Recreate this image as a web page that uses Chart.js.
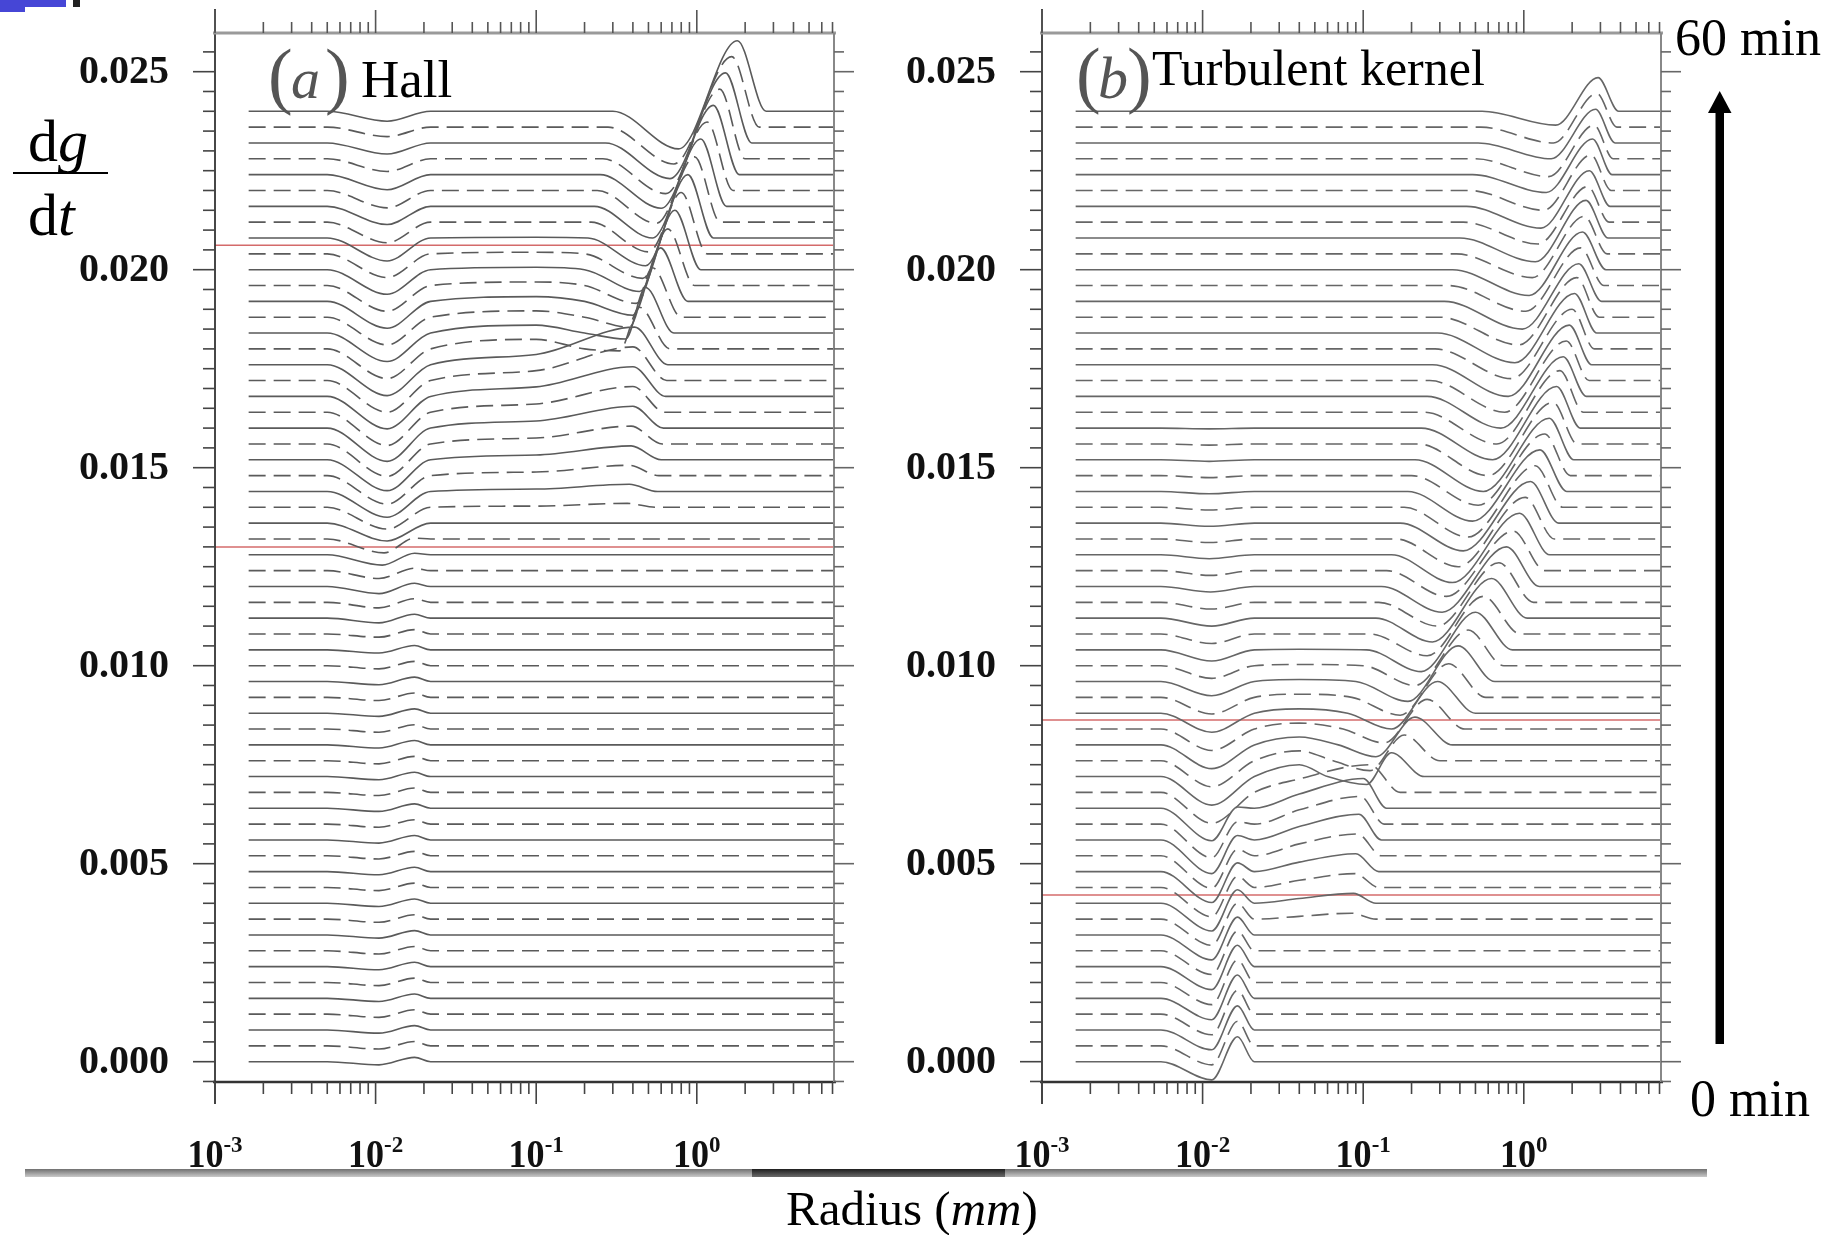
<!DOCTYPE html>
<html>
<head>
<meta charset="utf-8">
<title>dg/dt waterfall – Hall and turbulent kernels</title>
<script src="https://cdn.jsdelivr.net/npm/chart.js@4.4.1/dist/chart.umd.min.js"></script>
<style>
  html, body { margin: 0; padding: 0; background: #fff; }
  #page { position: relative; width: 1843px; height: 1235px; overflow: hidden; background: #fff;
          font-family: "Liberation Serif", "Times New Roman", serif; color: #000; }
  canvas { position: absolute; left: 0; top: 0; }
  .t { position: absolute; line-height: 1; white-space: nowrap; }
  .gray { color: #555; }
  svg { position: absolute; left: 0; top: 0; pointer-events: none; }
</style>
</head>
<body>
<div id="page">
  <canvas id="hallChart" width="1843" height="1235"></canvas>
  <canvas id="turbChart" width="1843" height="1235"></canvas>

  <!-- slide corner marks -->
  <div style="position:absolute;left:0;top:0;width:66px;height:7px;background:#4646d6;"></div>
  <div style="position:absolute;left:0;top:7px;width:25px;height:5px;background:#4646d6;"></div>
  <div style="position:absolute;left:73px;top:0;width:7px;height:7px;background:#222;"></div>

  <!-- y-axis quantity -->
  <div class="t" style="left:28px;top:111px;font-size:60px;">d<i>g</i></div>
  <div style="position:absolute;left:13px;top:172px;width:95px;height:2px;background:#000;"></div>
  <div class="t" style="left:28px;top:185px;font-size:60px;">d<i>t</i></div>

  <!-- panel titles -->
  <div class="t gray" style="left:268px;top:38px;font-size:74px;">(</div>
  <div class="t gray" style="left:291px;top:50px;font-size:58px;"><i>a</i></div>
  <div class="t gray" style="left:325px;top:38px;font-size:74px;">)</div>
  <div class="t" style="left:361px;top:53px;font-size:53px;">Hall</div>

  <div class="t gray" style="left:1076px;top:37px;font-size:74px;">(</div>
  <div class="t gray" style="left:1098px;top:48px;font-size:60px;"><i>b</i></div>
  <div class="t gray" style="left:1127px;top:37px;font-size:74px;">)</div>
  <div class="t" style="left:1152px;top:43px;font-size:50px;">Turbulent kernel</div>

  <!-- time arrow -->
  <div class="t" style="left:1675px;top:12px;font-size:52px;">60 min</div>
  <div class="t" style="left:1690px;top:1073px;font-size:52px;">0 min</div>
  <svg width="1843" height="1235">
    <rect x="1715.5" y="108" width="8.5" height="936" fill="#000"/>
    <polygon points="1719.7,91 1708,113 1731.5,113" fill="#000"/>
  </svg>

  <!-- bottom rule and x title -->
  <div style="position:absolute;left:25px;top:1169px;width:1682px;height:8px;background:linear-gradient(#707070,#c9c9c9);"></div>
  <div style="position:absolute;left:752px;top:1169px;width:253px;height:8px;background:linear-gradient(#1e1e1e,#6a6a6a);"></div>
  <div class="t" style="left:786px;top:1184px;font-size:49px;">Radius (<i>mm</i>)</div>
</div>

<script>
// ---------------------------------------------------------------------------
// Axis definitions
// ---------------------------------------------------------------------------
const radiusMin = 0.001;          // mm
const radiusMax = 7.15;           // mm
const rateMin = -0.000513;
const rateMax = 0.025977;
const yTickValues = [0, 0.005, 0.010, 0.015, 0.020, 0.025];
const yTickLabels = ['0.000', '0.005', '0.010', '0.015', '0.020', '0.025'];
const yMinorStep = 0.0005;
const xTickValues = [0.001, 0.01, 0.1, 1];
const xTickExponents = ['-3', '-2', '-1', '0'];

// One curve per minute, 0..60 min, each lifted by lineStep above the previous
const lineStep = 0.0004;
const anomalyUnit = 1e-4;          // curve features below are in units of 1e-4
const curveStart = 0.00162;        // first radius of every curve (mm)
const curveEnd = 7.15;             // last radius of every curve (mm)

// ---------------------------------------------------------------------------
// (a) Hall kernel – features of each minute's curve
// ---------------------------------------------------------------------------
const hallDipDepth = [
  0.8,0.8,0.8,0.8,0.8,0.8,0.8,0.8,0.8,0.8,
  0.8,0.8,0.8,0.8,0.8,0.8,0.8,0.8,0.8,0.8,
  0.8,0.8,0.8,0.8,0.8,0.8,0.8,0.8,1.2,1.4,
  1.8,2.0,2.6,3.5,4.5,5.5,6.5,7.2,7.8,8.2,
  8.4,8.4,8.2,8.0,7.8,7.5,7.2,7.0,6.8,6.5,
  6.2,6.0,5.8,5.2,4.6,4.4,3.8,3.2,2.8,2.4,
  2.5];
const hallDipRadius = [
  0.0105,0.0105,0.0105,0.0105,0.0105,0.0105,0.0105,0.0105,0.0105,0.0105,
  0.0105,0.0105,0.0105,0.0105,0.0105,0.0105,0.0105,0.0105,0.0105,0.0105,
  0.0105,0.0105,0.0105,0.0105,0.0105,0.0105,0.0105,0.0105,0.0105,0.0105,
  0.0105,0.0105,0.0110,0.0113,0.0118,0.0118,0.0118,0.0118,0.0118,0.0118,
  0.0118,0.0118,0.0118,0.0118,0.0118,0.0118,0.0118,0.0118,0.0118,0.0118,
  0.0118,0.0118,0.0118,0.0118,0.0118,0.0118,0.0118,0.0118,0.0118,0.0118,
  0.0118];
const hallSmallPeak = [
  1.1,1.1,1.1,1.1,1.1,1.1,1.1,1.1,1.1,1.1,
  1.1,1.1,1.1,1.1,1.1,1.1,1.1,1.1,1.1,1.1,
  1.1,1.1,1.1,1.1,1.1,1.1,1.1,1.1,1.0,0.9,
  0.8,0.6,0.4,0.2,0,0,0,0,0,0,
  0,0,0,0,0,0,0,0,0,0,
  0,0,0,0,0,0,0,0,0,0,
  0];
const hallPlateau = [
  0,0,0,0,0,0,0,0,0,0,
  0,0,0,0,0,0,0,0,0,0,
  0,0,0,0,0,0,0,0,0,0,
  0,0,0,0,0,0.3,0.6,0.9,1.2,1.5,
  1.8,2.1,2.4,2.5,2.6,2.4,2.0,1.6,1.2,0.9,
  0.6,0.4,0.2,0,0,0,0,0,0,0,
  0];
const hallPeakRadius = [
  0,0,0,0,0,0,0,0,0,0,
  0,0,0,0,0,0,0,0,0,0,
  0,0,0,0,0,0,0,0,0,0,
  0,0,0,0,0,0.37,0.38,0.38,0.39,0.39,
  0.40,0.40,0.40,0.40,0.41,0.44,0.48,0.53,0.595,0.66,
  0.73,0.80,0.88,0.97,1.06,1.16,1.27,1.39,1.51,1.65,
  1.79];
const hallPeakHeight = [
  0,0,0,0,0,0,0,0,0,0,
  0,0,0,0,0,0,0,0,0,0,
  0,0,0,0,0,0,0,0,0,0,
  0,0,0,0,0,1.0,1.8,2.6,3.5,4.5,
  5.5,6.5,7.5,8.5,9.5,10.5,11.5,12.5,13.5,14.3,
  15.0,15.5,16.0,16.5,17.0,17.3,17.5,17.6,17.7,17.8,
  17.8];
const hallPeakEnd = [
  0,0,0,0,0,0,0,0,0,0,
  0,0,0,0,0,0,0,0,0,0,
  0,0,0,0,0,0,0,0,0,0,
  0,0,0,0,0,0.55,0.57,0.58,0.60,0.61,
  0.62,0.63,0.64,0.65,0.66,0.68,0.72,0.80,0.88,0.97,
  1.06,1.16,1.27,1.40,1.53,1.68,1.84,2.00,2.20,2.45,
  2.70];
const hallTroughDepth = [
  0,0,0,0,0,0,0,0,0,0,
  0,0,0,0,0,0,0,0,0,0,
  0,0,0,0,0,0,0,0,0,0,
  0,0,0,0,0,0,0,0,0,0,
  0,0,0,0,0,0.5,1.5,2.5,3.5,4.5,
  5.5,6.2,7.0,7.5,8.0,8.3,8.5,8.8,9.0,9.3,
  9.5];
const hallTroughRadius = [
  0,0,0,0,0,0,0,0,0,0,
  0,0,0,0,0,0,0,0,0,0,
  0,0,0,0,0,0,0,0,0,0,
  0,0,0,0,0,0,0,0,0,0,
  0,0,0,0,0,0.33,0.36,0.38,0.40,0.42,
  0.44,0.46,0.48,0.50,0.53,0.56,0.60,0.64,0.68,0.72,
  0.77];
const hallDropStart = [
  0,0,0,0,0,0,0,0,0,0,
  0,0,0,0,0,0,0,0,0,0,
  0,0,0,0,0,0,0,0,0,0,
  0,0,0,0,0,0,0,0,0,0,
  0,0,0,0,0,0.20,0.20,0.20,0.20,0.20,
  0.20,0.20,0.21,0.22,0.23,0.24,0.25,0.26,0.27,0.28,
  0.30];
const hallMarkers = [0.02062, 0.0130];

// ---------------------------------------------------------------------------
// (b) Turbulent kernel – features of each minute's curve
// ---------------------------------------------------------------------------
const turbDipDepth = [
  4.6,4.8,5.0,5.2,5.4,5.6,5.8,6.0,6.3,6.6,
  7.0,7.4,7.8,8.2,8.5,8.5,8.2,7.8,7.2,6.6,
  6.0,5.4,4.8,4.2,3.6,3.2,2.8,2.4,2.0,1.7,
  1.4,1.2,1.0,0.9,0.8,0.7,0.6,0.5,0.4,0.3,
  0.2,0,0,0,0,0,0,0,0,0,
  0,0,0,0,0,0,0,0,0,0,
  0];
const turbDipRadius = [
  0.0114,0.0114,0.0114,0.0114,0.0114,0.0114,0.0114,0.0114,0.0114,0.0114,
  0.0114,0.0114,0.0114,0.0114,0.0114,0.0114,0.0114,0.0114,0.0114,0.0114,
  0.0114,0.0114,0.0114,0.0114,0.0114,0.0114,0.0114,0.0114,0.0114,0.0114,
  0.0112,0.0112,0.0110,0.0110,0.0110,0.0110,0.0110,0.0110,0.0110,0.0110,
  0.0110,0.0110,0.0110,0.0110,0.0110,0.0110,0.0110,0.0110,0.0110,0.0110,
  0.0110,0.0110,0.0110,0.0110,0.0110,0.0110,0.0110,0.0110,0.0110,0.0110,
  0.0110];
const turbSmallPeak = [
  6.3,6.2,6.1,6.0,5.9,5.7,5.4,5.0,4.5,4.0,
  3.4,2.8,2.2,1.6,1.1,0.6,0.3,0,0,0,
  0,0,0,0,0,0,0,0,0,0,
  0,0,0,0,0,0,0,0,0,0,
  0,0,0,0,0,0,0,0,0,0,
  0,0,0,0,0,0,0,0,0,0,
  0];
const turbPlateau = [
  0,0,0,0,0,0,0,0,0,0.7,
  1.2,1.8,2.4,3.0,3.4,3.6,3.6,3.4,3.0,2.5,
  2.0,1.5,1.1,0.8,0.5,0.3,0.15,0,0,0,
  0,0,0,0,0,0,0,0,0,0,
  0,0,0,0,0,0,0,0,0,0,
  0,0,0,0,0,0,0,0,0,0,
  0];
const turbPeakRadius = [
  0,0,0,0,0,0,0,0,0,0.085,
  0.087,0.089,0.09,0.092,0.094,0.096,0.10,0.11,0.15,0.18,
  0.21,0.25,0.29,0.34,0.39,0.45,0.50,0.56,0.63,0.70,
  0.78,0.86,0.94,1.02,1.10,1.18,1.26,1.35,1.44,1.52,
  1.60,1.68,1.76,1.84,1.92,2.00,2.07,2.14,2.20,2.26,
  2.32,2.38,2.44,2.50,2.56,2.62,2.68,2.74,2.80,2.85,
  2.90];
const turbPeakHeight = [
  0,0,0,0,0,0,0,0,0,1.5,
  2.5,3.5,4.5,5.5,6.5,7.0,7.5,7.0,6.0,6.5,
  7.0,7.5,8.0,8.5,9.0,9.0,9.5,9.5,10,10,
  10,10,10.5,10.5,10.5,10.5,10.5,10.5,10.5,10.5,
  10.5,10.5,10,10,10,10,10,10,9.5,9.5,
  9.5,9.5,9.5,9,9,9,9,8.5,8.5,8.5,
  8.5];
const turbPeakEnd = [
  0,0,0,0,0,0,0,0,0,0.12,
  0.12,0.125,0.125,0.13,0.13,0.135,0.14,0.17,0.24,0.30,
  0.36,0.43,0.50,0.58,0.66,0.75,0.85,0.95,1.05,1.15,
  1.25,1.35,1.45,1.55,1.65,1.75,1.85,1.95,2.05,2.15,
  2.25,2.35,2.45,2.55,2.65,2.75,2.85,2.95,3.05,3.15,
  3.25,3.30,3.35,3.40,3.45,3.50,3.55,3.60,3.70,3.80,
  3.90];
const turbTroughDepth = [
  0,0,0,0,0,0,0,0,0,0,
  0,0,0,0,0,0,0,0,2,2.5,
  3,3.5,4,4.5,5,5,5.5,5.5,6,6,
  6.5,6.5,7,7,7,7.5,7.5,7.5,8,8,
  8,8,8,8,8,7.5,7.5,7,7,6.5,
  6.5,6,6,5.5,5.5,5,4.5,4.5,4,4,
  3.5];
const turbTroughRadius = [
  0,0,0,0,0,0,0,0,0,0,
  0,0,0,0,0,0,0,0,0.105,0.11,
  0.12,0.135,0.15,0.17,0.19,0.21,0.23,0.25,0.27,0.29,
  0.31,0.33,0.36,0.39,0.42,0.45,0.48,0.52,0.56,0.60,
  0.64,0.68,0.72,0.76,0.80,0.84,0.88,0.93,0.98,1.03,
  1.08,1.13,1.18,1.23,1.28,1.33,1.38,1.43,1.48,1.53,
  1.58];
const turbDropStart = [
  0,0,0,0,0,0,0,0,0,0,
  0,0,0,0,0,0,0,0,0.06,0.065,
  0.07,0.075,0.08,0.085,0.09,0.10,0.105,0.11,0.12,0.125,
  0.13,0.14,0.15,0.16,0.17,0.18,0.19,0.20,0.21,0.22,
  0.23,0.24,0.25,0.26,0.27,0.28,0.29,0.30,0.32,0.34,
  0.36,0.38,0.40,0.42,0.44,0.46,0.48,0.50,0.52,0.54,
  0.55];
const turbMarkers = [0.00863, 0.00421];

// ---------------------------------------------------------------------------
// Build each minute's key points; Chart.js draws the smooth curve through them
// ---------------------------------------------------------------------------
const hallPanel = {
  dipFrom: 0.005, dipTo: 0.022, smallR: 0.0175, plateauR: 0.1,
  dipR: hallDipRadius, dipD: hallDipDepth, small: hallSmallPeak, plateau: hallPlateau,
  dropStart: hallDropStart, troughR: hallTroughRadius, trough: hallTroughDepth,
  peakR: hallPeakRadius, peak: hallPeakHeight, peakEnd: hallPeakEnd,
  markers: hallMarkers, color: '#5a5a5a'
};
const turbPanel = {
  dipFrom: 0.0055, dipTo: 0.021, smallR: 0.0165, plateauR: 0.04,
  dipR: turbDipRadius, dipD: turbDipDepth, small: turbSmallPeak, plateau: turbPlateau,
  dropStart: turbDropStart, troughR: turbTroughRadius, trough: turbTroughDepth,
  peakR: turbPeakRadius, peak: turbPeakHeight, peakEnd: turbPeakEnd,
  markers: turbMarkers, color: '#666'
};

function minuteCurve(p, i) {
  const pts = [[curveStart, 0], [p.dipFrom, 0], [p.dipR[i], -p.dipD[i]]];
  if (p.small[i] > 0) pts.push([p.smallR, p.small[i]]);
  pts.push([p.dipTo, 0]);
  if (p.plateau[i] > 0) pts.push([p.plateauR, p.plateau[i]]);
  if (p.trough[i] > 0) {
    pts.push([p.dropStart[i], 0]);
    pts.push([p.troughR[i], -p.trough[i]]);
  }
  if (p.peak[i] > 0) {
    pts.push([p.peakR[i], p.peak[i]]);
    pts.push([p.peakEnd[i], 0]);
  }
  pts.push([curveEnd, 0]);
  const base = i * lineStep;
  return pts.map(([r, a]) => ({ x: r, y: base + a * anomalyUnit }));
}

function panelDatasets(p) {
  const sets = [];
  for (let i = 0; i < p.dipD.length; i++) {
    sets.push({
      label: i + ' min',
      data: minuteCurve(p, i),
      borderColor: p.color,
      borderWidth: 1.6,
      borderDash: i % 2 ? [17, 8] : [],
      cubicInterpolationMode: 'monotone',
      pointRadius: 0,
      fill: false
    });
  }
  p.markers.forEach(v => sets.push({
    label: 'marker',
    data: [{ x: radiusMin, y: v }, { x: radiusMax, y: v }],
    borderColor: 'rgba(205,80,80,0.85)',
    borderWidth: 1.5,
    pointRadius: 0,
    fill: false
  }));
  return sets;
}

// ---------------------------------------------------------------------------
// Frame, ticks and tick labels drawn from the chart scales
// ---------------------------------------------------------------------------
const framePlugin = {
  id: 'frame',
  afterDraw(chart) {
    const { ctx, chartArea: a, scales: { x, y } } = chart;
    ctx.save();
    const seg = (x1, y1, x2, y2, w, c) => {
      ctx.beginPath(); ctx.lineWidth = w; ctx.strokeStyle = c;
      ctx.moveTo(x1, y1); ctx.lineTo(x2, y2); ctx.stroke();
    };
    // box
    seg(a.left, a.top - 24, a.left, a.bottom + 22, 1.8, '#333');
    seg(a.left - 2, a.top, a.right + 2, a.top, 3, '#9a9a9a');
    seg(a.left - 2, a.bottom, a.right + 2, a.bottom, 2.4, '#333');
    seg(a.right, a.top, a.right, a.bottom, 2, '#888');

    // logarithmic x ticks, top and bottom
    for (let e = -3; e <= 0; e++) {
      for (let m = 1; m <= 9; m++) {
        const v = m * Math.pow(10, e);
        if (v > x.max) break;
        const px = x.getPixelForValue(v);
        const major = m === 1;
        seg(px, a.bottom, px, a.bottom + (major ? 22 : 12), 1.6, '#444');
        seg(px, a.top, px, a.top - (major ? 23 : 11), 1.6, '#555');
      }
    }
    // y ticks, left and right
    for (let k = -1; k <= 52; k++) {
      const v = k * yMinorStep;
      const py = y.getPixelForValue(v);
      if (py < a.top - 0.5 || py > a.bottom + 0.5) continue;
      const major = k % 10 === 0;
      seg(a.left - (major ? 22 : 12), py, a.left, py, 1.6, '#444');
      seg(a.right, py, a.right + (major ? 20 : 10), py, 1.6, '#666');
    }

    // y tick labels
    ctx.fillStyle = '#111';
    ctx.font = 'bold 40px "Liberation Serif", serif';
    ctx.textAlign = 'right';
    ctx.textBaseline = 'middle';
    yTickValues.forEach((v, j) => ctx.fillText(yTickLabels[j], a.left - 46, y.getPixelForValue(v) + 1));

    // x tick labels: 10 with a raised exponent
    ctx.textAlign = 'left';
    ctx.textBaseline = 'alphabetic';
    xTickValues.forEach((v, j) => {
      const px = x.getPixelForValue(v);
      ctx.font = 'bold 41px "Liberation Serif", serif';
      const w1 = ctx.measureText('10').width * 0.88;
      ctx.font = 'bold 23px "Liberation Serif", serif';
      const w2 = ctx.measureText(xTickExponents[j]).width;
      const x0 = px - (w1 + w2) / 2;
      ctx.save();
      ctx.translate(x0, 1167);
      ctx.scale(0.88, 1);
      ctx.font = 'bold 41px "Liberation Serif", serif';
      ctx.fillText('10', 0, 0);
      ctx.restore();
      ctx.font = 'bold 23px "Liberation Serif", serif';
      ctx.fillText(xTickExponents[j], x0 + w1, 1152);
    });
    ctx.restore();
  }
};

function makeChart(id, panel, padLeft, padRight) {
  return new Chart(document.getElementById(id), {
    type: 'line',
    data: { datasets: panelDatasets(panel) },
    options: {
      responsive: false,
      animation: false,
      devicePixelRatio: 1,
      layout: { padding: { left: padLeft, right: padRight, top: 33, bottom: 153 } },
      plugins: { legend: { display: false }, tooltip: { enabled: false } },
      events: [],
      scales: {
        x: { type: 'logarithmic', min: radiusMin, max: radiusMax, display: false },
        y: { type: 'linear', min: rateMin, max: rateMax, display: false }
      }
    },
    plugins: [framePlugin]
  });
}

makeChart('hallChart', hallPanel, 215, 1843 - 834);
makeChart('turbChart', turbPanel, 1042, 1843 - 1661);
</script>
</body>
</html>
